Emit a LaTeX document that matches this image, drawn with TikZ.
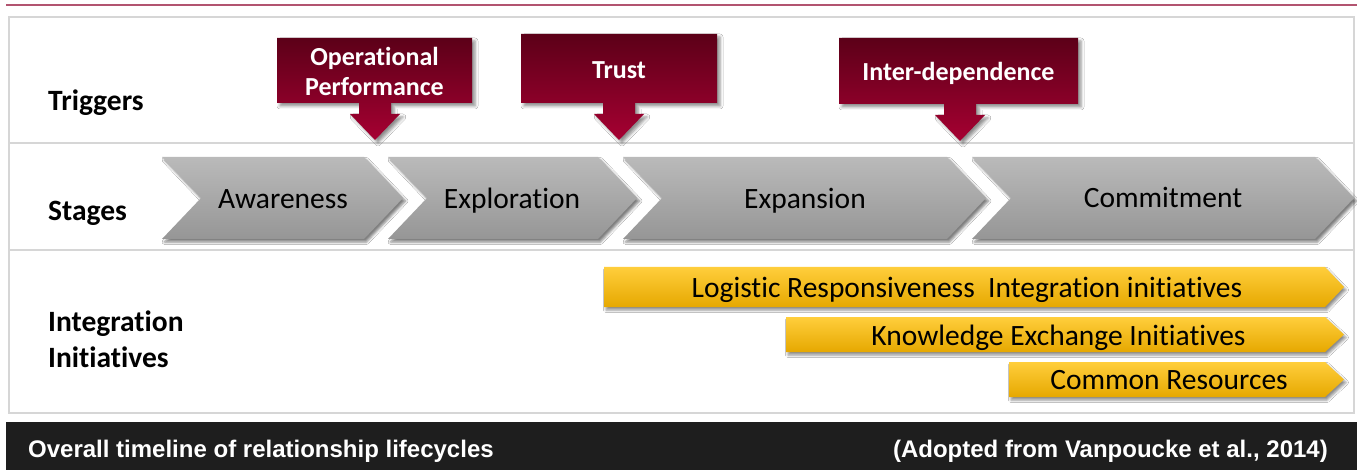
\documentclass[tikz,border=0pt]{standalone}
\usepackage{fontspec}
\setmainfont{Carlito}[Ligatures={NoCommon,NoContextual}]
\newfontfamily\capfont{Liberation Sans}
\usetikzlibrary{shadows.blur}

\definecolor{rulepink}{RGB}{178,84,112}
\definecolor{framegray}{RGB}{214,214,214}
\definecolor{trigtop}{RGB}{92,0,24}
\definecolor{trigbot}{RGB}{166,0,50}
\definecolor{stagetop}{RGB}{186,186,186}
\definecolor{stagebot}{RGB}{150,150,150}
\definecolor{bartop}{RGB}{255,206,60}
\definecolor{barbot}{RGB}{230,168,0}
\definecolor{footbg}{RGB}{30,30,30}

% trigger callout: box x1,y1,x2,y2 and arrow centre
\newcommand\triggershape[5]{%
  \path[trigshape] (#1,#2) -- (#3,#2) -- (#3,#4) -- (#5+16,#4) -- (#5+16,#4+11)
    -- (#5+25,#4+11) -- (#5,#4+37) -- (#5-25,#4+11) -- (#5-16,#4+11)
    -- (#5-16,#4) -- (#1,#4) -- cycle;}
% stage chevron between left x and right x of the top edge
\newcommand\stageshape[2]{%
  \path[stagebox] (#1,157) -- (#2,157) -- (#2+39,198) -- (#2,239)
    -- (#1,239) -- (#1+39,198) -- cycle;}
% initiative bar: left x, top y, bottom y
\newcommand\barshape[3]{%
  \path[initbar] (#1,#2) -- (1325,#2) -- (1344,{(#2+#3)/2}) -- (1325,#3)
    -- (#1,#3) -- cycle;}

\begin{document}
\begin{tikzpicture}[x=1pt,y=-1pt,
  frameline/.style={draw=framegray,line width=1.6pt},
  trigshape/.style={top color=trigtop,bottom color=trigbot,
    blur shadow={shadow xshift=3pt,shadow yshift=-3pt,shadow blur radius=3pt,shadow opacity=45}},
  stagebox/.style={top color=stagetop,bottom color=stagebot,
    blur shadow={shadow xshift=2.5pt,shadow yshift=-3pt,shadow blur radius=2.5pt,shadow opacity=50}},
  initbar/.style={top color=bartop,bottom color=barbot,
    blur shadow={shadow xshift=2pt,shadow yshift=-3pt,shadow blur radius=2.5pt,shadow opacity=45}},
  trigtext/.style={text=white,font=\fontsize{26}{30}\selectfont\bfseries,inner sep=0,align=center},
  stagetext/.style={text=black,font=\fontsize{29.5}{36}\selectfont,inner sep=0,anchor=base},
  bartext/.style={text=black,font=\fontsize{29.5}{36}\selectfont,inner sep=0,anchor=base},
  rowlabel/.style={text=black,font=\fontsize{29.5}{36}\selectfont\bfseries,inner sep=0,anchor=base west},
  foottext/.style={text=white,font=\capfont\bfseries\fontsize{24}{28}\selectfont,inner sep=0}]

\useasboundingbox (0,0) rectangle (1357,470);
\fill[white] (0,0) rectangle (1357,470);

% header rule
\draw[rulepink,line width=1.5pt] (6,5) -- (1357,5);

% table frame with three rows
\draw[frameline] (9,17) rectangle (1354,413);
\draw[frameline] (9,143) -- (1354,143);
\draw[frameline] (9,250) -- (1354,250);

% row titles
\node[rowlabel] (lTrig) at (48,111) {Triggers};
\node[rowlabel] (lStage) at (48,221) {Stages};
\node[rowlabel] (lInt1) at (48,331) {Integration};
\node[rowlabel] (lInt2) at (48,367) {Initiatives};

% triggers
\triggershape{277}{38}{472}{103}{375}
\node[trigtext] (tOper) at (374.5,71) {Operational\\Performance};
\triggershape{521}{34}{717}{103}{619}
\node[trigtext,anchor=base] (tTrust) at (619,79) {Trust};
\triggershape{839}{38}{1078}{104}{960}
\node[trigtext,anchor=base] (tInter) at (958.5,81) {Inter-dependence};

% stages
\stageshape{162}{364}
\node[stagetext] (sAware) at (283,209) {Awareness};
\stageshape{388}{598}
\node[stagetext] (sExplo) at (512,209) {Exploration};
\stageshape{623}{947}
\node[stagetext] (sExpan) at (805,209) {Expansion};
\stageshape{972}{1315}
\node[stagetext] (sCommit) at (1163,208) {Commitment};

% integration initiatives
\barshape{604}{267}{307}
\node[bartext] (bLog) at (967,298) {Logistic Responsiveness\ \ Integration initiatives};
\barshape{786}{317}{352}
\node[bartext] (bKnow) at (1058.5,345) {Knowledge Exchange Initiatives};
\barshape{1009}{362}{397}
\node[bartext] (bCommon) at (1169,389) {Common Resources};

% caption bar
\fill[footbg] (6,422) rectangle (1357,470);
\node[foottext,anchor=base west] (cLeft) at (28,457) {Overall timeline of relationship lifecycles};
\node[foottext,anchor=base east] (cRight) at (1328,457) {(Adopted from Vanpoucke et al., 2014)};
\end{tikzpicture}
\end{document}
